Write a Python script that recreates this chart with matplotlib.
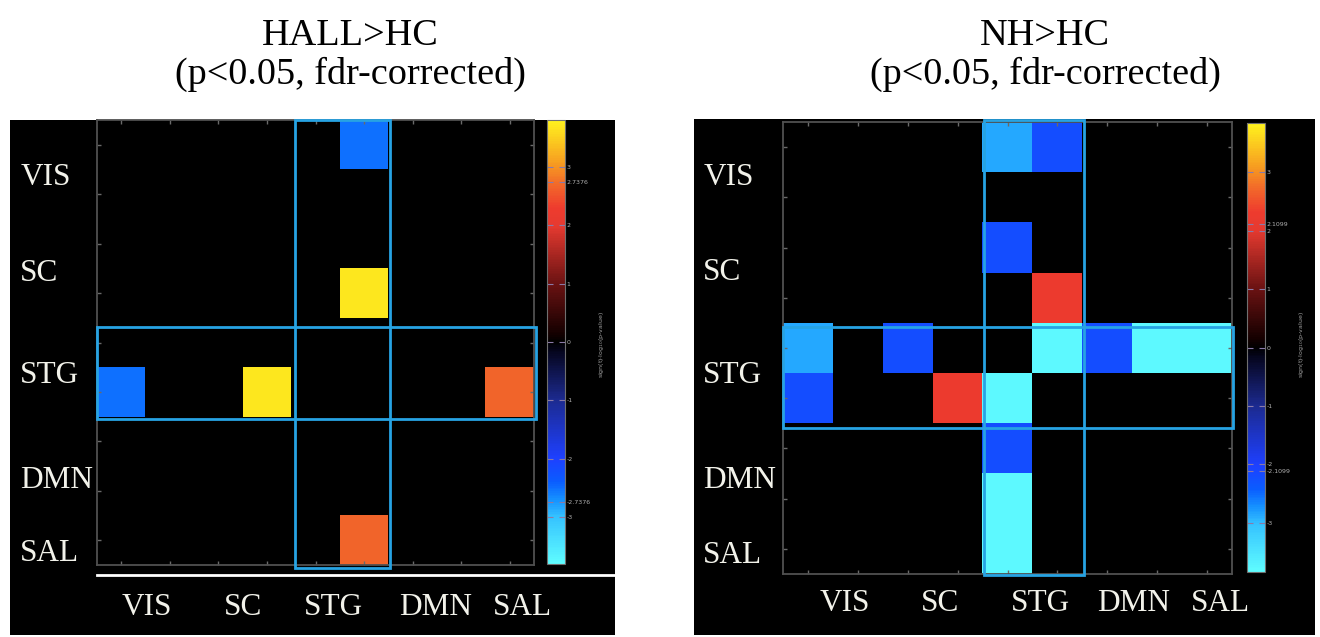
import numpy as np
import matplotlib
matplotlib.use("Agg")
import matplotlib.pyplot as plt
from matplotlib.colors import LinearSegmentedColormap, Normalize
from matplotlib.patches import Rectangle
from matplotlib.cm import ScalarMappable

# ---------------- data ----------------
networks = ["VIS", "SC", "STG", "DMN", "SAL"]
n_nodes = 9
titles = ["HALL>HC\n(p<0.05, fdr-corrected)", "NH>HC\n(p<0.05, fdr-corrected)"]

# significant edges (row, col, signed -log10 p), mirrored across diagonal
hall_edges = [(0, 5, -2.5), (3, 5, 3.7), (5, 8, 2.65)]
nh_edges = [(0, 4, -2.85), (0, 5, -2.2), (2, 4, -2.2), (3, 5, 2.25),
            (4, 5, -3.8), (4, 6, -2.2), (4, 7, -3.8), (4, 8, -3.8)]

hall_cbar_ticks = [-3, -2.7376, -2, -1, 0, 1, 2, 2.7376, 3]
nh_cbar_ticks = [-3, -2.1099, -2, -1, 0, 1, 2, 2.1099, 3]
vlim = [3.8, 3.84]

# label positions (in cell units) as they appear in each panel
xlab_pos = [[1.03, 3.0, 4.86, 6.97, 8.76], [1.24, 3.15, 5.17, 7.03, 8.76]]
ylab_pos = [[1.17, 3.1, 5.16, 7.3, 8.77], [1.1, 3.0, 5.04, 7.13, 8.63]]

# ---------------- style ----------------
W, H = 1320, 637
fig = plt.figure(figsize=(W / 100, H / 100), dpi=100)
fig.patch.set_facecolor("white")
serif = "Liberation Serif"

def frac(x0, y0, x1, y1):
    return [x0 / W, 1 - y1 / H, (x1 - x0) / W, (y1 - y0) / H]

anchors = [(-3.8, "#5ffcff"), (-3.0, "#35c2ff"), (-2.7, "#1590ff"),
           (-2.4, "#0a5cff"), (-2.0, "#1e40ff"), (-1.0, "#1c2a90"),
           (-0.15, "#05051c"), (0.0, "#000000"), (0.15, "#150000"),
           (1.0, "#6a1212"), (2.0, "#e63a30"), (2.3, "#ee3b2e"),
           (2.7, "#f2682a"), (3.1, "#f7a020"), (3.8, "#fff21e")]
cmap = LinearSegmentedColormap.from_list(
    "sig", [((v + 3.8) / 7.6, c) for v, c in anchors])

box_color = "#27a3e3"

panels = [
    dict(edges=hall_edges, ax=frac(97, 120, 534, 565), cax=frac(547, 120, 565, 564),
         bg=frac(10, 120, 615, 635), vbox=(4.07, -0.0, 6.03, 9.06),
         hbox=(0.0, 4.19, 9.05, 6.05), ticks=hall_cbar_ticks, vlim=vlim[0],
         xlab_y=9.86, ylab_x=-1.58, title_x=350, cblab_x=602),
    dict(edges=nh_edges, ax=frac(783, 122, 1232, 574), cax=frac(1247, 123, 1265, 572),
         bg=frac(694, 119, 1315, 635), vbox=(4.03, -0.04, 6.03, 9.02),
         hbox=(0.0, 4.08, 9.02, 6.1), ticks=nh_cbar_ticks, vlim=vlim[1],
         xlab_y=9.58, ylab_x=-1.6, title_x=1045, cblab_x=1302),
]

for i, p in enumerate(panels):
    # black panel background
    fig.patches.append(Rectangle((p["bg"][0], p["bg"][1]), p["bg"][2], p["bg"][3],
                                 transform=fig.transFigure, facecolor="black",
                                 edgecolor="none", zorder=-10))
    mat = np.zeros((n_nodes, n_nodes))
    for r, c, v in p["edges"]:
        mat[r, c] = v
        mat[c, r] = v
    mat = np.ma.masked_equal(mat, 0)
    norm = Normalize(-p["vlim"], p["vlim"])
    ax = fig.add_axes(p["ax"])
    ax.set_zorder(1)
    ax.set_facecolor("black")
    ax.imshow(mat, cmap=cmap, norm=norm, extent=(0, n_nodes, n_nodes, 0),
              aspect="auto", interpolation="nearest")
    ax.set_xlim(0, n_nodes)
    ax.set_ylim(n_nodes, 0)
    centers = np.arange(n_nodes) + 0.5
    ax.set_xticks(centers)
    ax.set_yticks(centers)
    ax.tick_params(which="both", direction="in", length=3, width=1, color="#6a6a6a",
                   top=True, right=True, labelbottom=False, labelleft=False)
    for s in ax.spines.values():
        s.set_color("#505050")
        s.set_linewidth(1.3)
    x0, y0, x1, y1 = p["vbox"]
    ax.add_patch(Rectangle((x0, y0), x1 - x0, y1 - y0, fill=False,
                           edgecolor=box_color, lw=2, clip_on=False, zorder=5))
    x0, y0, x1, y1 = p["hbox"]
    ax.add_patch(Rectangle((x0, y0), x1 - x0, y1 - y0, fill=False,
                           edgecolor=box_color, lw=2, clip_on=False, zorder=5))
    for name, xp in zip(networks, xlab_pos[i]):
        ax.text(xp, p["xlab_y"], name, ha="center", va="center", color="#f2f2ea",
                fontsize=22.5, family=serif, clip_on=False)
    for name, yp in zip(networks, ylab_pos[i]):
        ax.text(p["ylab_x"], yp, name, ha="left", va="center", color="#f2f2ea",
                fontsize=22.5, family=serif, clip_on=False)

    # colorbar
    cax = fig.add_axes(p["cax"])
    cax.set_zorder(1)
    sm = ScalarMappable(norm=norm, cmap=cmap)
    cb = fig.colorbar(sm, cax=cax, ticks=p["ticks"])
    cb.outline.set_edgecolor("#707070")
    cb.outline.set_linewidth(0.8)
    cb.ax.set_yticklabels([f"{t:g}" for t in p["ticks"]])
    cax.tick_params(direction="in", left=True, right=True, length=4, width=0.8,
                    color="#8a7aa8", labelsize=4.5, labelcolor="#b0b0b0", pad=1)
    fig.text(p["cblab_x"] / W, 1 - 345 / H, "sign(t)·log$_{10}$(p-value)",
             rotation=90, ha="center", va="center", fontsize=4.5, color="#a0a0a0")

    # title
    fig.text(p["title_x"] / W, 1 - 55 / H, titles[i], ha="center", va="center",
             fontsize=27.5, family=serif, color="black", linespacing=1.15)

# white separator under left matrix
fig.add_artist(plt.Line2D([97 / W, 615 / W], [1 - 575 / H, 1 - 575 / H],
                          transform=fig.transFigure, color="white", lw=2))

fig.savefig("out.png", dpi=100, facecolor="white")
